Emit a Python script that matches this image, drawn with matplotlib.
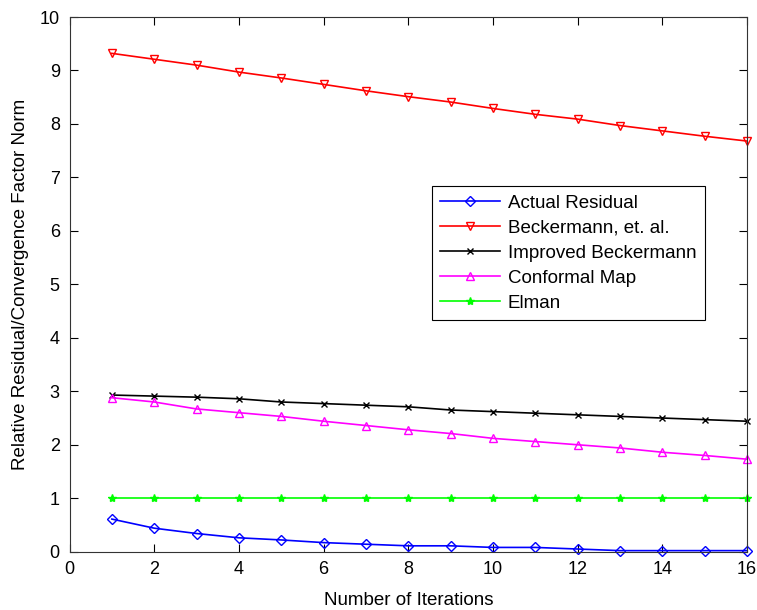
import numpy as np
import matplotlib.pyplot as plt

plt.rcParams['font.family'] = ['Liberation Sans', 'DejaVu Sans']

iters = list(range(1, 17))
actual = [0.61, 0.44, 0.34, 0.26, 0.22, 0.17, 0.14, 0.11, 0.11, 0.08, 0.08, 0.05, 0.02, 0.02, 0.02, 0.02]
beckermann = [9.32, 9.21, 9.10, 8.97, 8.86, 8.74, 8.62, 8.51, 8.41, 8.29, 8.18, 8.09, 7.97, 7.87, 7.77, 7.68]
improved = [2.93, 2.91, 2.89, 2.86, 2.80, 2.77, 2.74, 2.71, 2.65, 2.62, 2.59, 2.56, 2.53, 2.50, 2.47, 2.44]
conformal = [2.88, 2.80, 2.67, 2.60, 2.53, 2.44, 2.36, 2.28, 2.21, 2.12, 2.06, 2.00, 1.94, 1.86, 1.80, 1.73]
elman = [1.0] * 16

fig = plt.figure(figsize=(7.57, 6.10), dpi=100)
ax = fig.add_axes([69.5 / 757, 1 - 551.7 / 610, 677.5 / 757, 534.7 / 610])

ax.plot(iters, actual, color='#0000ff', marker='D', markersize=5, mfc='none', lw=1.2,
        label='Actual Residual', clip_on=False)
ax.plot(iters, beckermann, color='#ff0000', marker='v', markersize=6, mfc='none', lw=1.2,
        label='Beckermann, et. al.', clip_on=False)
ax.plot(iters, improved, color='black', marker='x', markersize=5, lw=1.2,
        label='Improved Beckermann', clip_on=False)
ax.plot(iters, conformal, color='#ff00ff', marker='^', markersize=6, mfc='none', lw=1.2,
        label='Conformal Map', clip_on=False)
ax.plot(iters, elman, color='#00ff00', marker='*', markersize=6, lw=1.2,
        label='Elman', clip_on=False)

ax.set_xlim(0, 16)
ax.set_ylim(0, 10)
ax.set_xticks(np.arange(0, 17, 2))
ax.set_yticks(np.arange(0, 11, 1))
ax.tick_params(direction='in', length=6, top=True, right=True, labelsize=13, pad=7)
for s in ax.spines.values():
    s.set_color('#333333')

ax.set_xlabel('Number of Iterations', fontsize=13.5, labelpad=10)
ax.set_ylabel('Relative Residual/Convergence Factor Norm', fontsize=13.5, labelpad=8)

leg = ax.legend(loc='upper left', bbox_to_anchor=(0.535, 0.684), borderaxespad=0,
                fontsize=13.5, fancybox=False, edgecolor='black', framealpha=1,
                handlelength=3.2, handletextpad=0.4, labelspacing=0.42, borderpad=0.45)
leg.get_frame().set_linewidth(0.8)

plt.savefig('out.png', dpi=100)
